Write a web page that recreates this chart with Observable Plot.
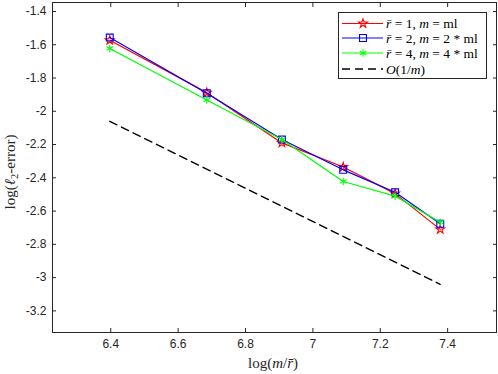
<!DOCTYPE html>
<html><head><meta charset="utf-8">
<script src="https://cdn.jsdelivr.net/npm/d3@7"></script>
<script src="https://cdn.jsdelivr.net/npm/@observablehq/plot@0.6"></script>
<style>body{margin:0;background:#fff}</style>
</head><body><div id="chart"></div>
<script>
// x positions: log(m / r̄)
const logM = [6.397, 6.685, 6.908, 7.090, 7.244, 7.378];
// log(l2-error) for each configuration
const errR1 = [-1.573, -1.888, -2.190, -2.335, -2.495, -2.710];
const errR2 = [-1.557, -1.892, -2.170, -2.352, -2.487, -2.676];
const errR4 = [-1.622, -1.932, -2.170, -2.422, -2.510, -2.667];
// reference O(1/m) line
const refX = [6.397, 7.378];
const refY = [-2.060, -3.040];
const xTicks = [6.4, 6.6, 6.8, 7, 7.2, 7.4];
const yTicks = [-3.2, -3, -2.8, -2.6, -2.4, -2.2, -2, -1.8, -1.6, -1.4];

const series = [
  {key: "r1", color: "#ff0000", symbol: "star", r: 2.8, values: errR1},
  {key: "r2", color: "#0000ff", symbol: "square", r: 3.9, values: errR2},
  {key: "r4", color: "#00ff00", symbol: "asterisk", r: 3.6, values: errR4}
];
const refData = refX.map((x, i) => ({x, y: refY[i]}));

const marks = [
  Plot.frame({stroke: "#262626", strokeWidth: 1}),
  Plot.axisX({ticks: xTicks, tickSize: -4, tickPadding: 11, tickFormat: d => String(d), label: null}),
  Plot.axisX({anchor: "top", ticks: xTicks, tickSize: -4, tickFormat: () => "", label: null}),
  Plot.axisY({ticks: yTicks, tickSize: -4, tickPadding: 10, tickFormat: d => String(d), label: null}),
  Plot.axisY({anchor: "right", ticks: yTicks, tickSize: -4, tickFormat: () => "", label: null}),
  Plot.line(refData, {x: "x", y: "y", stroke: "black", strokeWidth: 1.4, strokeDasharray: "8,5"})
];
for (const s of series) {
  const d = logM.map((x, i) => ({x, y: s.values[i]}));
  marks.push(Plot.line(d, {x: "x", y: "y", stroke: s.color, strokeWidth: 1.2}));
  marks.push(Plot.dot(d, {x: "x", y: "y", stroke: s.color, fill: "none", symbol: s.symbol, r: s.r, strokeWidth: 1.1}));
}

const plot = Plot.plot({
  width: 498, height: 374,
  marginLeft: 52, marginRight: 2, marginTop: 2, marginBottom: 42,
  x: {domain: [6.227, 7.545]},
  y: {domain: [-3.33, -1.346]},
  style: {fontFamily: "Liberation Sans, Arial, sans-serif", fontSize: "12px", color: "#262626", background: "#fff"},
  marks
});
document.getElementById("chart").appendChild(plot);

const svg = d3.select(plot);
const serif = "Liberation Serif, Times New Roman, serif";

// y label
const yl = svg.append("text")
  .attr("transform", "translate(15,172) rotate(-90)")
  .attr("text-anchor", "middle").attr("font-family", serif).attr("font-size", 15).attr("fill", "#262626");
yl.append("tspan").text("log(");
yl.append("tspan").attr("font-style", "italic").text("ℓ");
yl.append("tspan").attr("font-size", 10.5).attr("dy", 3).text("2");
yl.append("tspan").attr("dy", -3).text("-error)");

// x label
const xl = svg.append("text")
  .attr("x", 273).attr("y", 368)
  .attr("text-anchor", "middle").attr("font-family", serif).attr("font-size", 15).attr("fill", "#262626");
xl.append("tspan").text("log(");
xl.append("tspan").attr("font-style", "italic").text("m");
xl.append("tspan").text("/");
xl.append("tspan").attr("font-style", "italic").text("r̄");
xl.append("tspan").text(")");

// legend
const lg = svg.append("g");
lg.append("rect").attr("x", 338.5).attr("y", 12.5).attr("width", 148).attr("height", 66)
  .attr("fill", "#fff").attr("stroke", "#262626").attr("stroke-width", 1);
const legendRows = [
  {color: "#ff0000", sym: d3.symbolStar, size: Math.PI * 2.8 * 2.8, parts: [["r̄", 1], [" = 1, ", 0], ["m", 1], [" = ml", 0]]},
  {color: "#0000ff", sym: d3.symbolSquare, size: Math.PI * 3.9 * 3.9, parts: [["r̄", 1], [" = 2, ", 0], ["m", 1], [" = 2 * ml", 0]]},
  {color: "#00ff00", sym: d3.symbolAsterisk, size: Math.PI * 3.6 * 3.6, parts: [["r̄", 1], [" = 4, ", 0], ["m", 1], [" = 4 * ml", 0]]},
  {color: "#000", sym: null, parts: [["O", 1], ["(1/", 0], ["m", 1], [")", 0]]}
];
const rowY = [23.5, 38, 53, 69];
legendRows.forEach((r, i) => {
  const y = rowY[i];
  const ln = lg.append("line").attr("x1", 342).attr("x2", 383).attr("y1", y).attr("y2", y)
    .attr("stroke", r.color).attr("stroke-width", r.sym ? 1.2 : 1.4);
  if (!r.sym) ln.attr("stroke-dasharray", "8,5");
  if (r.sym) lg.append("path").attr("d", d3.symbol(r.sym, r.size)()).attr("transform", `translate(363,${y})`)
    .attr("fill", "none").attr("stroke", r.color).attr("stroke-width", 1.1);
  const t = lg.append("text").attr("x", 386).attr("y", y + 4.5).attr("text-anchor", "start")
    .attr("font-family", serif).attr("font-size", 13.5)
    .attr("fill", "#000").style("white-space", "pre");
  r.parts.forEach(([s, it]) => { const ts = t.append("tspan").text(s); if (it) ts.attr("font-style", "italic"); });
});
</script>
</body></html>
